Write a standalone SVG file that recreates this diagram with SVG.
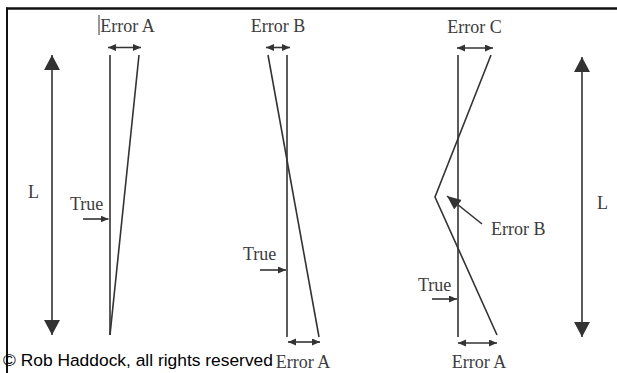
<svg xmlns="http://www.w3.org/2000/svg" width="617" height="373" viewBox="0 0 617 373">
<defs>
<style>
.ln{stroke:#333;stroke-width:1.6;fill:none}
.t{font-family:"Liberation Serif","Times New Roman",serif;font-size:18px;fill:#3c3c3c}
.c{font-family:"Liberation Sans",Arial,sans-serif;font-size:17.4px;fill:#000}
</style>
<marker id="sm" markerUnits="userSpaceOnUse" markerWidth="9" markerHeight="8" refX="8" refY="3.5" orient="auto-start-reverse"><path d="M0,0 L8,3.5 L0,7 z" fill="#333"/></marker>
<marker id="big" markerUnits="userSpaceOnUse" markerWidth="16" markerHeight="17" refX="15" refY="8" orient="auto-start-reverse"><path d="M0,0 L15,8 L0,16 z" fill="#333"/></marker>
<marker id="ptr" markerUnits="userSpaceOnUse" markerWidth="15" markerHeight="13" refX="14" refY="6" orient="auto"><path d="M0,0 L14,6 L0,12 z" fill="#333"/></marker>
</defs>
<rect width="617" height="373" fill="#fff"/>
<g id="frame">
<line x1="6" y1="8.5" x2="617" y2="8.5" stroke="#111" stroke-width="2.5"/>
<line x1="7" y1="7.5" x2="7" y2="373" stroke="#111" stroke-width="2"/>
</g>
<g id="panel-a">
<line class="ln" x1="110" y1="55" x2="110" y2="335"/>
<line class="ln" x1="139" y1="55" x2="110" y2="335"/>
<line x1="99" y1="15" x2="99" y2="35" stroke="#333" stroke-width="1"/>
<text class="t" x="127.5" y="32" text-anchor="middle">Error A</text>
<text class="t" x="28" y="198">L</text>
<text class="t" x="70" y="210">True</text>
</g>
<g id="panel-b">
<line class="ln" x1="287" y1="55" x2="287" y2="337"/>
<line class="ln" x1="268" y1="55" x2="319" y2="337"/>
<text class="t" x="278" y="32" text-anchor="middle">Error B</text>
<text class="t" x="243" y="260">True</text>
<text class="t" x="303" y="368" text-anchor="middle">Error A</text>
</g>
<g id="panel-c">
<line class="ln" x1="458" y1="55" x2="458" y2="337"/>
<polyline class="ln" points="491,55 435,197 497,335"/>
<text class="t" x="474.5" y="33" text-anchor="middle">Error C</text>
<text class="t" x="491" y="235">Error B</text>
<text class="t" x="418" y="291">True</text>
<text class="t" x="479" y="368" text-anchor="middle">Error A</text>
<text class="t" x="597" y="209">L</text>
</g>
<g id="connectors">
<line class="ln" x1="52" y1="55" x2="52" y2="335" marker-start="url(#big)" marker-end="url(#big)"/>
<line class="ln" x1="582" y1="57" x2="582" y2="337" marker-start="url(#big)" marker-end="url(#big)"/>
<line class="ln" x1="108" y1="47.5" x2="141" y2="47.5" marker-start="url(#sm)" marker-end="url(#sm)"/>
<line class="ln" x1="266" y1="47.5" x2="290" y2="47.5" marker-start="url(#sm)" marker-end="url(#sm)"/>
<line class="ln" x1="457" y1="48" x2="493" y2="48" marker-start="url(#sm)" marker-end="url(#sm)"/>
<line class="ln" x1="288" y1="342" x2="320" y2="342" marker-start="url(#sm)" marker-end="url(#sm)"/>
<line class="ln" x1="458" y1="343" x2="497" y2="343" marker-start="url(#sm)" marker-end="url(#sm)"/>
<line class="ln" x1="83" y1="219" x2="108.5" y2="219" marker-end="url(#sm)"/>
<line class="ln" x1="260" y1="270" x2="286" y2="270" marker-end="url(#sm)"/>
<line class="ln" x1="432" y1="299" x2="457" y2="299" marker-end="url(#sm)"/>
<line class="ln" x1="482" y1="224" x2="447" y2="196" marker-end="url(#ptr)"/>
</g>
<g id="copyright">
<text class="c" x="3" y="366">© Rob Haddock, all rights reserved</text>
</g>
</svg>
